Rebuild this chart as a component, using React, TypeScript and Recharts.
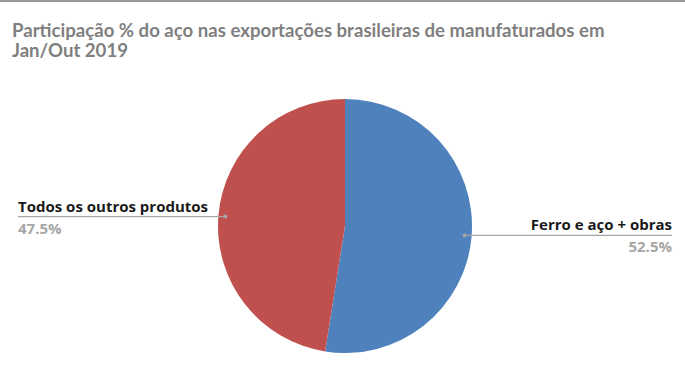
import { PieChart, Pie, Cell } from "recharts"

const categories = ["Ferro e aço + obras", "Todos os outros produtos"]
const shares = [52.5, 47.5]
const COLORS = ["#4f81bd", "#c0504d"]

const data = categories.map((name, i) => ({ name, value: shares[i] }))

const RAD = Math.PI / 180
const W = 685
const H = 366

const renderLabel = (props: any) => {
  const { cx, cy, midAngle, name, value } = props
  const r = 120
  const x = cx + r * Math.cos(-midAngle * RAD)
  const y = cy + r * Math.sin(-midAngle * RAD)
  const right = x > cx
  const endX = right ? 672 : 18
  const anchor = right ? "end" : "start"
  return (
    <g>
      <line x1={x} y1={y} x2={endX} y2={y} stroke="#a6a6a6" strokeWidth={1.2} />
      <circle cx={x} cy={y} r={2} fill="#a6a6a6" />
      <text x={endX} y={y - 5} textAnchor={anchor} fill="#1a1a1a" fontSize={15} fontWeight={700} fontFamily="Open Sans">
        {name}
      </text>
      <text x={endX} y={y + 17} textAnchor={anchor} fill="#a6a6a6" fontSize={15} fontWeight={700} fontFamily="Open Sans">
        {value.toFixed(1)}%
      </text>
    </g>
  )
}

export default function App() {
  return (
    <div style={{ position: "absolute", left: 0, top: 0, width: W, height: H, background: "#fff" }}>
      <div style={{ position: "absolute", left: 0, top: 0, width: W, height: 2, background: "#9a9a9a" }} />
      <div
        style={{
          position: "absolute",
          left: 12,
          top: 20,
          width: 660,
          fontFamily: "Lato",
          fontWeight: 700,
          fontSize: 18.6,
          lineHeight: "20px",
          color: "#7f7f7f",
        }}
      >
        Participação % do aço nas exportações brasileiras de manufaturados em
        <br />
        Jan/Out 2019
      </div>
      <PieChart width={W} height={H} margin={{ top: 0, right: 0, bottom: 0, left: 0 }} style={{ position: "absolute", left: 0, top: 0 }}>
        <Pie
          data={data}
          dataKey="value"
          cx={345}
          cy={226}
          outerRadius={127}
          startAngle={90}
          endAngle={-270}
          stroke="none"
          label={renderLabel}
          labelLine={false}
          isAnimationActive={false}
        >
          {data.map((entry, index) => (
            <Cell key={`cell-${index}`} fill={COLORS[index % COLORS.length]} />
          ))}
        </Pie>
      </PieChart>
    </div>
  )
}
